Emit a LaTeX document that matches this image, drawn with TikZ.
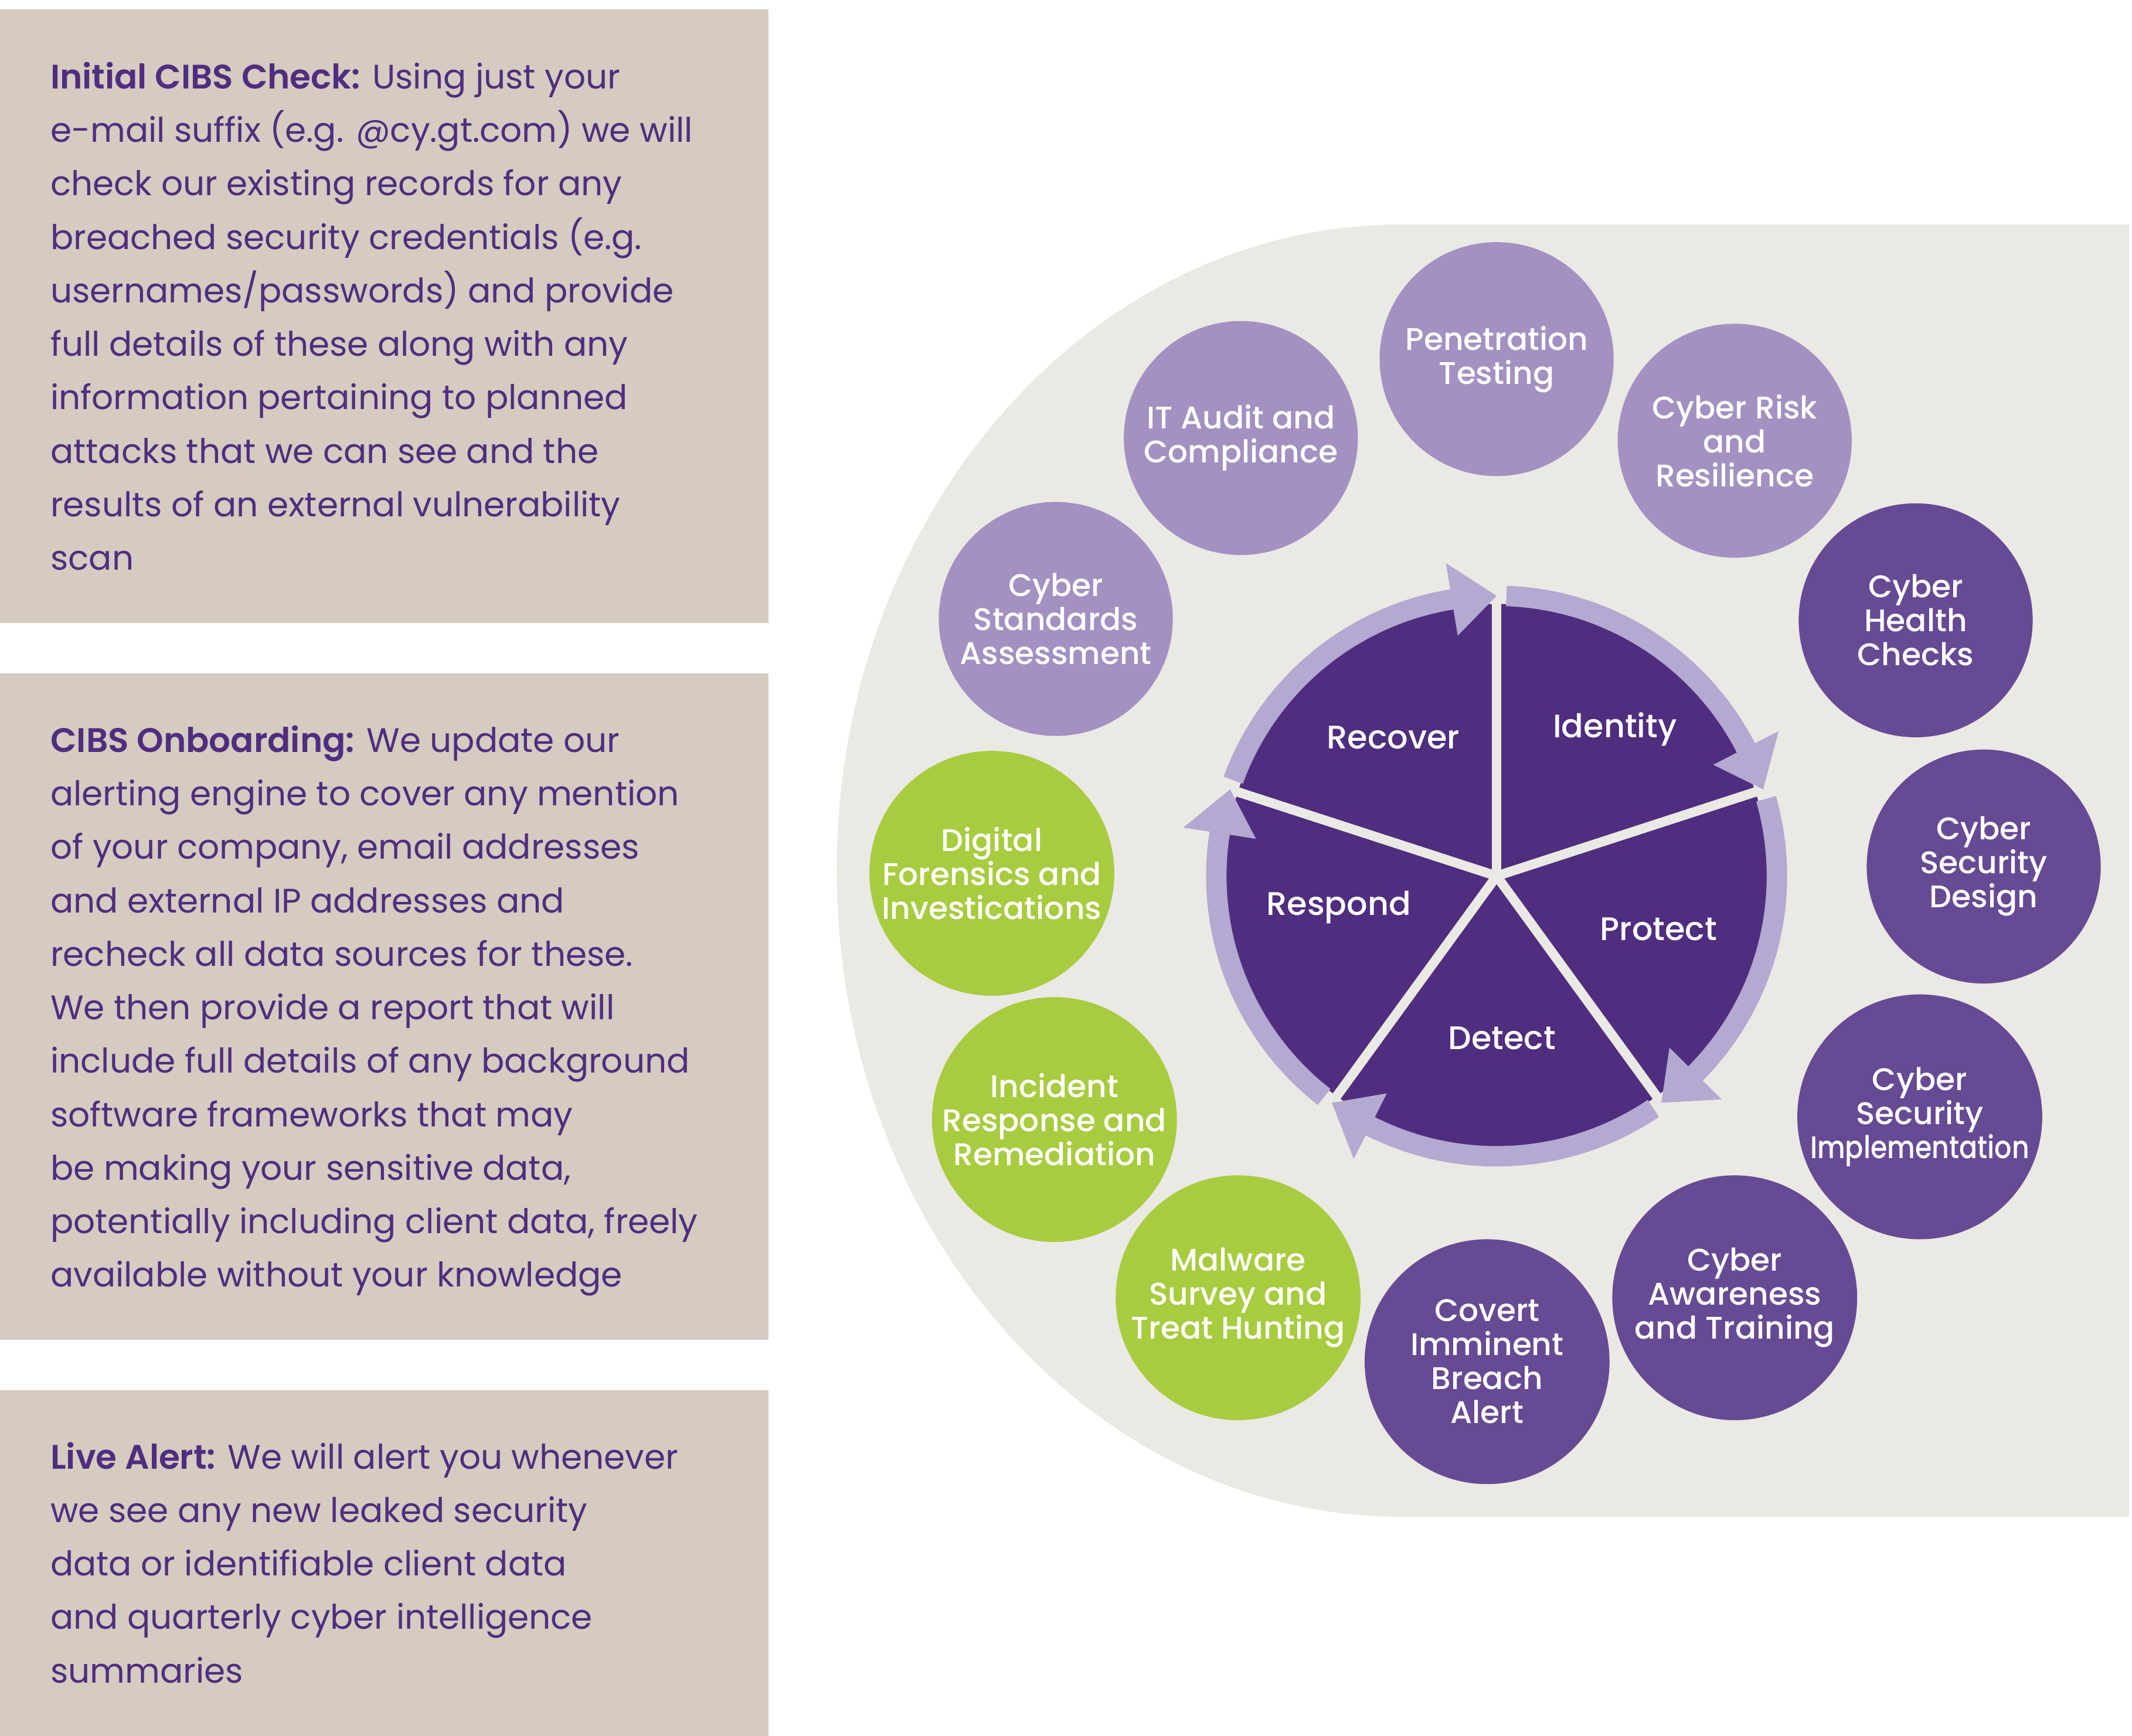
\documentclass[tikz,border=0pt]{standalone}
\usepackage{fontspec}
\setmainfont{Poppins}[BoldFont={Poppins SemiBold}]
\newfontfamily\medfont{Poppins Medium}
\definecolor{gtpurple}{HTML}{4F2D7F}
\definecolor{midpurple}{HTML}{674A94}
\definecolor{lightpurple}{HTML}{A291C1}
\definecolor{bandpurple}{HTML}{B4A9D1}
\definecolor{gtgreen}{HTML}{A8CC3F}
\definecolor{sand}{HTML}{D5CBC0}
\definecolor{paper}{HTML}{EAE9E4}
\begin{document}
\begin{tikzpicture}[x=1pt,y=-1pt,
    blurb/.style={anchor=base west,align=left,inner sep=0pt,text=gtpurple,
      font=\fontsize{25}{39.3}\selectfont},
    bubble/.style={circle,fill=#1,inner sep=0pt},
    bubtext/.style={align=center,text=white,inner sep=0pt,
      font=\medfont\fontsize{23}{25}\selectfont},
    stage/.style={text=white,font=\medfont\fontsize{24}{25}\selectfont}]
  \useasboundingbox (0,0) rectangle (1567,1276);
  % text boxes on the left (anchored on the last line)
  \fill[sand] (0,7) rectangle (565,458);
  \fill[sand] (0,495) rectangle (565,985);
  \fill[sand] (0,1022) rectangle (565,1276);
  \node[blurb] (check) at (37,419) {\textbf{Initial CIBS Check:} Using just your\\
    e-mail suffix (e.g. @cy.gt.com) we will\\
    check our existing records for any\\
    breached security credentials (e.g.\\
    usernames/passwords) and provide\\
    full details of these along with any\\
    information pertaining to planned\\
    attacks that we can see and the\\
    results of an external vulnerability\\
    scan};
  \node[blurb] (onboard) at (37,946) {\textbf{CIBS Onboarding:} We update our\\
    alerting engine to cover any mention\\
    of your company, email addresses\\
    and external IP addresses and\\
    recheck all data sources for these.\\
    We then provide a report that will\\
    include full details of any background\\
    software frameworks that may\\
    be making your sensitive data,\\
    potentially including client data, freely\\
    available without your knowledge};
  \node[blurb] (alert) at (37,1237) {\textbf{Live Alert:} We will alert you whenever\\
    we see any new leaked security\\
    data or identifiable client data\\
    and quarterly cyber intelligence\\
    summaries};
  % grey backdrop
  \fill[paper] (1565,165) -- (1030,165)
    arc[start angle=-90,end angle=-270,x radius=415,y radius=475] -- (1565,1115) -- cycle;
  % services round the wheel
  \foreach \x/\y/\d/\c/\n/\t in {
      1100/264/172/lightpurple/pentest/{Penetration\\Testing},
      1275/324/172/lightpurple/risk/{Cyber Risk\\and\\Resilience},
      1408/456/172/midpurple/health/{Cyber\\Health\\Checks},
      1458/637/172/midpurple/design/{Cyber\\Security\\Design},
      1411/821/180/midpurple/implement/{Cyber\\Security\\\scalebox{0.86}[1]{Implementation}},
      1275/954/180/midpurple/training/{Cyber\\Awareness\\and Training},
      1093/1001/180/midpurple/breach/{Covert\\Imminent\\Breach\\Alert},
      910/954/180/gtgreen/malware/{Malware\\Survey and\\Treat Hunting},
      775/823/180/gtgreen/incident/{Incident\\Response and\\Remediation},
      729/642/180/gtgreen/forensics/{Digital\\Forensics and\\Investications},
      776/455/172/lightpurple/standards/{Cyber\\Standards\\Assessment},
      912/322/172/lightpurple/audit/{IT Audit and\\Compliance}}{
    \node[bubble=\c,minimum size=\d pt] (\n) at (\x,\y) {};
    \node[bubtext] (\n-txt) at (\n) {\t};
  }
  % the five stages
  \begin{scope}[shift={(1100,644)}]
    \foreach \a in {198,270,342,54,126}
      \fill[gtpurple] (0,0) -- (\a:200) arc[start angle=\a,end angle=\a+72,radius=200] -- cycle;
    \foreach \a in {198,270,342,54,126}
      \draw[paper,line width=7pt] (0,0) -- (\a:218);
    \foreach \a in {198,270,342,54,126}{
      \draw[bandpurple,line width=15pt] (\a+2:206) arc[start angle=\a+2,end angle=\a+64,radius=206];
      \fill[bandpurple] (\a+72:206) -- (\a+62.8:233) -- (\a+62.8:179) -- cycle;
    }
  \end{scope}
  \node[stage] (recover) at (1024,542) {Recover};
  \node[stage] (identity) at (1187,536) {Identity};
  \node[stage] (protect) at (1219,683) {Protect};
  \node[stage] (detect) at (1104,763) {Detect};
  \node[stage] (respond) at (984,667) {Respond};
\end{tikzpicture}
\end{document}
